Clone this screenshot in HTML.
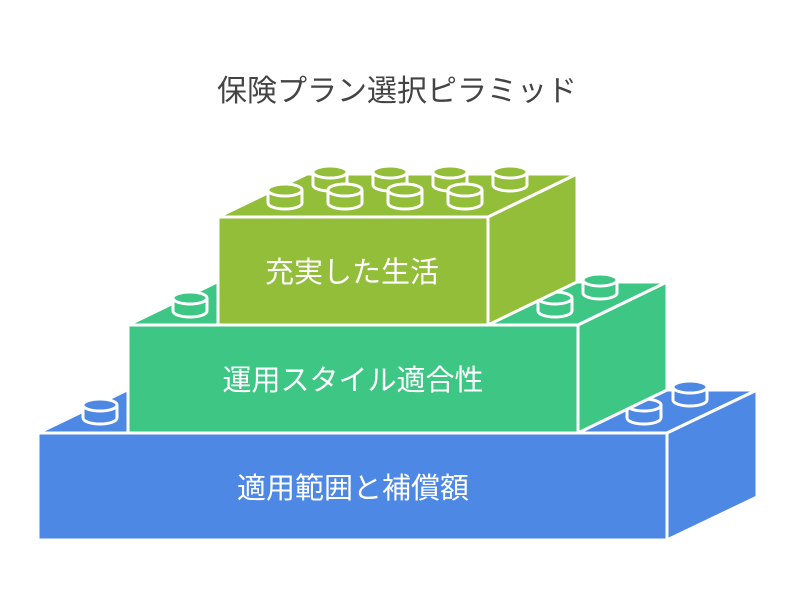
<!DOCTYPE html>
<html><head><meta charset="utf-8"><style>
html,body{margin:0;padding:0;background:#fff}
svg{display:block}
text{font-family:"Liberation Sans","Noto Sans CJK JP",sans-serif}
</style></head><body>
<svg width="795" height="615" viewBox="0 0 795 615" xmlns="http://www.w3.org/2000/svg">
<defs>
<g id="stud">
<path d="M-17,0 L-17,13 A17,6 0 0 0 17,13 L17,0" stroke="#fff" stroke-width="3" fill="inherit"/>
<ellipse cx="0" cy="0" rx="17" ry="6" stroke="#fff" stroke-width="3" fill="inherit"/>
</g>
</defs>
<text x="397" y="101" font-size="30" fill="#444" text-anchor="middle">保険プラン選択ピラミッド</text>

<g stroke="#fff" stroke-width="3" stroke-linejoin="round" fill="#4E88E5">
<polygon points="38,433 127,390 757,390 667,433"/>
<polygon points="667,433 757,390 757,497 667,540"/>
<rect x="38" y="433" width="629" height="107"/>
<use href="#stud" x="100" y="405"/>
<use href="#stud" x="690" y="387"/>
<use href="#stud" x="644" y="405"/>
</g>
<g stroke="#fff" stroke-width="3" stroke-linejoin="round" fill="#3EC684">
<polygon points="128,325 217,282 667,282 578,325"/>
<polygon points="578,325 667,282 667,390 578,433"/>
<rect x="128" y="325" width="450" height="108"/>
<use href="#stud" x="190" y="298"/>
<use href="#stud" x="600" y="280"/>
<use href="#stud" x="555" y="298"/>
</g>
<g stroke="#fff" stroke-width="3" stroke-linejoin="round" fill="#93BE3A">
<polygon points="218,217 307,174 577,174 488,217"/>
<polygon points="488,217 577,174 577,282 488,325"/>
<rect x="218" y="217" width="270" height="108"/>
<use href="#stud" x="330" y="172"/>
<use href="#stud" x="390" y="172"/>
<use href="#stud" x="450" y="172"/>
<use href="#stud" x="510" y="172"/>
<use href="#stud" x="285" y="190"/>
<use href="#stud" x="345" y="190"/>
<use href="#stud" x="405" y="190"/>
<use href="#stud" x="465" y="190"/>
</g>
<text x="352" y="282" font-size="29" fill="#fff" text-anchor="middle">充実した生活</text>
<text x="353" y="390" font-size="29" fill="#fff" text-anchor="middle">運用スタイル適合性</text>
<text x="353" y="498" font-size="29" fill="#fff" text-anchor="middle">適用範囲と補償額</text>
</svg>
</body></html>
